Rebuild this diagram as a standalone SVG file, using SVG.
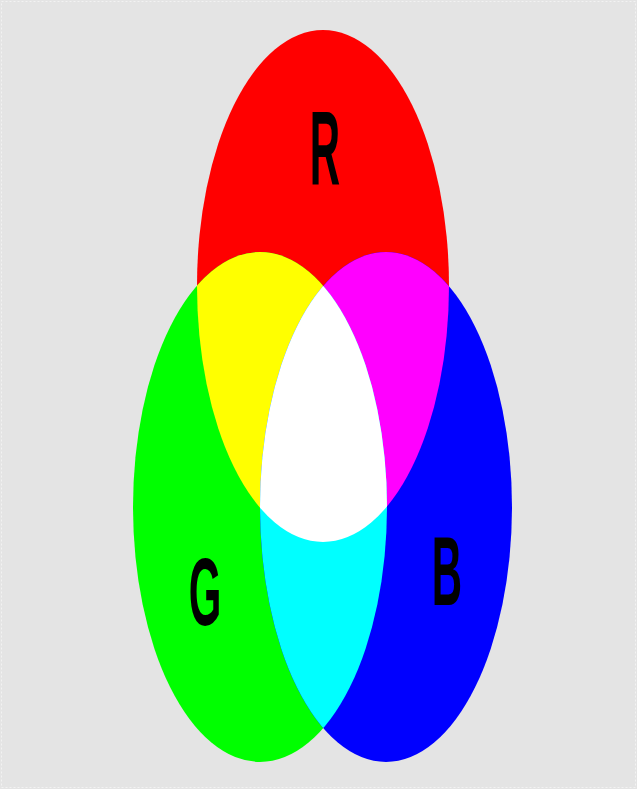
<svg xmlns="http://www.w3.org/2000/svg" width="637" height="789" viewBox="0 0 637 789">
  <style>
    .lbl { font-family: "Liberation Sans", Arial, sans-serif; font-weight: bold; font-size: 42px; fill: #000; text-anchor: middle; }
  </style>
  <defs>
    <clipPath id="cR"><ellipse cx="323" cy="286" rx="126" ry="256"/></clipPath>
    <clipPath id="cG"><ellipse cx="260" cy="507" rx="127" ry="255"/></clipPath>
  </defs>
  <rect x="0" y="0" width="637" height="789" fill="#e4e4e4"/>
  <rect x="1.5" y="1.5" width="634" height="786" fill="none" stroke="#f2f2f2" stroke-width="1" stroke-dasharray="2 2"/>
  <g id="red"><ellipse cx="323" cy="286" rx="126" ry="256" fill="#ff0000"/></g>
  <g id="green"><ellipse cx="260" cy="507" rx="127" ry="255" fill="#00ff00"/></g>
  <g id="blue"><ellipse cx="386" cy="507" rx="126" ry="255" fill="#0000ff"/></g>
  <g id="yellow" clip-path="url(#cR)"><ellipse cx="260" cy="507" rx="127" ry="255" fill="#ffff00"/></g>
  <g id="magenta" clip-path="url(#cR)"><ellipse cx="386" cy="507" rx="126" ry="255" fill="#ff00ff"/></g>
  <g id="cyan" clip-path="url(#cG)"><ellipse cx="386" cy="507" rx="126" ry="255" fill="#00ffff"/></g>
  <g id="white" clip-path="url(#cR)"><g clip-path="url(#cG)"><ellipse cx="386" cy="507" rx="126" ry="255" fill="#ffffff"/></g></g>
  <g id="labels">
    <text class="lbl" transform="translate(325,185) scale(1,2.5)">R</text>
    <text class="lbl" transform="translate(205,625) scale(1,2.3)">G</text>
    <text class="lbl" transform="translate(447,605) scale(1,2.35)">B</text>
  </g>
</svg>
